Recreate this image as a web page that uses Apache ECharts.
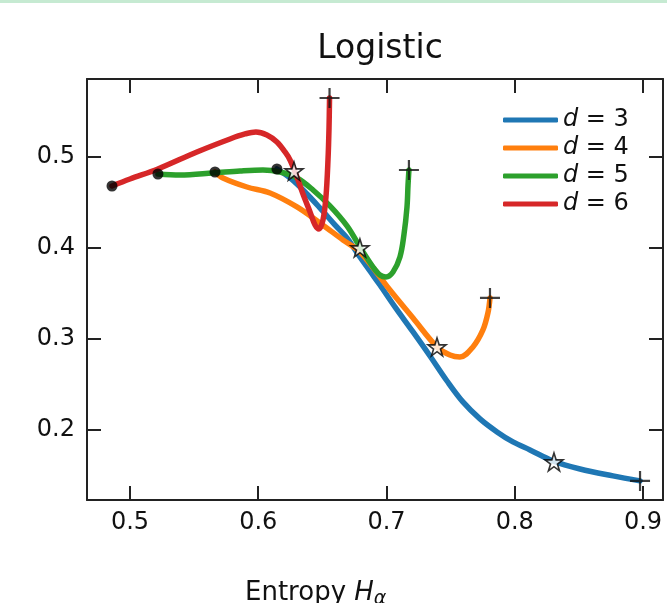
<!DOCTYPE html>
<html>
<head>
<meta charset="utf-8">
<script src="https://cdn.jsdelivr.net/npm/echarts@6/dist/echarts.min.js"></script>
<style>
html,body{margin:0;padding:0;background:#fff;}
#chart{width:667px;height:603px;}
</style>
</head>
<body>
<div id="chart"></div>
<script>
// ---- data ----
const seriesNames = ['d = 3', 'd = 4', 'd = 5', 'd = 6'];
const colors = ['#1f77b4', '#ff7f0e', '#2ca02c', '#d62728'];

const d3X = [0.6146,0.6248,0.6365,0.6481,0.6598,0.6692,0.6793,0.6871,0.6949,0.7066,0.7207,0.7339,0.7472,0.7596,0.7729,0.7862,0.7986,0.8119,0.8298,0.8509,0.8766,0.8977];
const d3Y = [0.4868,0.4769,0.4615,0.4440,0.4253,0.4110,0.3901,0.3747,0.3593,0.3352,0.3077,0.2813,0.2538,0.2308,0.2121,0.1978,0.1868,0.1780,0.1659,0.1571,0.1495,0.1440];

const d4X = [0.5663,0.5725,0.5912,0.6092,0.6302,0.6481,0.6661,0.6793,0.6926,0.7027,0.7207,0.7394,0.7495,0.7573,0.7674,0.7752,0.7791,0.7807];
const d4Y = [0.4835,0.4769,0.4670,0.4604,0.4451,0.4275,0.4088,0.3956,0.3725,0.3538,0.3230,0.2912,0.2824,0.2802,0.2912,0.3099,0.3286,0.3451];

const d5X = [0.5218,0.5390,0.5647,0.5858,0.6037,0.6170,0.6302,0.6427,0.6559,0.6692,0.6793,0.6895,0.6949,0.6996,0.7051,0.7105,0.7136,0.7160,0.7168,0.7175];
const d5Y = [0.4813,0.4802,0.4824,0.4846,0.4857,0.4835,0.4769,0.4637,0.4462,0.4242,0.4011,0.3791,0.3703,0.3681,0.3736,0.3901,0.4143,0.4451,0.4692,0.4857];

const d6X = [0.4860,0.5000,0.5218,0.5522,0.5780,0.5897,0.5982,0.6068,0.6146,0.6209,0.6248,0.6302,0.6349,0.6404,0.6443,0.6474,0.6505,0.6528,0.6544,0.6552,0.6556];
const d6Y = [0.4681,0.4758,0.4868,0.5055,0.5198,0.5253,0.5275,0.5242,0.5165,0.5055,0.4967,0.4780,0.4593,0.4396,0.4253,0.4209,0.4308,0.4560,0.4967,0.5319,0.5648];

const starX = [0.8306, 0.7394, 0.6793, 0.6279];
const starY = [0.1648, 0.2912, 0.4000, 0.4846];

const xTicks = [0.5, 0.6, 0.7, 0.8, 0.9];
const yTicks = [0.2, 0.3, 0.4, 0.5];
const xRange = [0.4665, 0.9156];
const yRange = [0.123, 0.5857];

const titleText = 'Logistic';
const xLabelText = ['Entropy ', 'H', 'α'];

// ---- build ----
const curvesX = [d3X, d4X, d5X, d6X];
const curvesY = [d3Y, d4Y, d5Y, d6Y];
const pairs = (xs, ys) => xs.map((x, i) => [x, ys[i]]);

const FONT = 'DejaVu Sans';
const INK = '#111';
const starPath = 'path://M0,-1L0.2245,-0.309L0.951,-0.309L0.363,0.118L0.588,0.809L0,0.382L-0.588,0.809L-0.363,0.118L-0.951,-0.309L-0.2245,-0.309Z';
const plusPath = 'path://M-0.11,-1H0.11V-0.11H1V0.11H0.11V1H-0.11V0.11H-1V-0.11H-0.11Z';

const lineSeries = seriesNames.map((name, k) => ({
  name: name,
  type: 'line',
  data: pairs(curvesX[k], curvesY[k]),
  symbol: 'none',
  showSymbol: false,
  smooth: 0.35,
  color: colors[k],
  lineStyle: { width: 5.5, color: colors[k], cap: 'round', join: 'round' },
  z: 2 + k
}));

const startPts = curvesX.map((xs, k) => [xs[0], curvesY[k][0]]);
const endPts = curvesX.map((xs, k) => [xs[xs.length - 1], curvesY[k][curvesY[k].length - 1]]);

const axisCommonX = {
  type: 'value', min: xRange[0], max: xRange[1],
  splitLine: { show: false },
  axisLine: { show: true, onZero: false, lineStyle: { color: '#222', width: 2 } },
  axisTick: { show: true, inside: true, length: 14, customValues: xTicks, lineStyle: { color: '#222', width: 2 } }
};
const axisCommonY = {
  type: 'value', min: yRange[0], max: yRange[1],
  splitLine: { show: false },
  axisLine: { show: true, onZero: false, lineStyle: { color: '#222', width: 2 } },
  axisTick: { show: true, inside: true, length: 14, customValues: yTicks, lineStyle: { color: '#222', width: 2 } }
};

const option = {
  animation: false,
  backgroundColor: '#fff',
  textStyle: { fontFamily: FONT },
  title: {
    text: titleText,
    left: 375, top: 28,
    textAlign: 'center',
    textStyle: { fontFamily: FONT, fontSize: 33, fontWeight: 'normal', color: INK }
  },
  grid: { left: 87, right: 4, top: 79, bottom: 103 },
  legend: {
    orient: 'vertical',
    left: 498, top: 103,
    itemWidth: 55, itemHeight: 5, itemGap: 4,
    icon: 'roundRect',
    data: seriesNames,
    formatter: n => '{i|d}{n|' + n.slice(1) + '}',
    textStyle: {
      fontFamily: FONT, fontSize: 24, color: INK, padding: [0, 0, 0, 0],
      rich: {
        i: { fontFamily: FONT, fontStyle: 'italic', fontSize: 24, color: INK, lineHeight: 24 },
        n: { fontFamily: FONT, fontSize: 24, color: INK, lineHeight: 24 }
      }
    }
  },
  xAxis: [
    Object.assign({}, axisCommonX, {
      position: 'bottom',
      axisLabel: { show: true, customValues: xTicks, formatter: v => v.toFixed(1), fontSize: 24, fontFamily: FONT, color: INK, margin: 11 }
    }),
    Object.assign({}, axisCommonX, { position: 'top', axisLabel: { show: false } })
  ],
  yAxis: [
    Object.assign({}, axisCommonY, {
      position: 'left',
      axisLabel: { show: true, customValues: yTicks, formatter: v => v.toFixed(1), fontSize: 24, fontFamily: FONT, color: INK, margin: 12 }
    }),
    Object.assign({}, axisCommonY, { position: 'right', axisLabel: { show: false } })
  ],
  graphic: [
    { type: 'rect', shape: { x: 0, y: 0, width: 667, height: 3 }, style: { fill: '#c6ead2' }, z: 100 },
    {
      type: 'text', left: 245, top: 580,
      style: {
        text: '{n|' + xLabelText[0] + '}{i|' + xLabelText[1] + '}{s|' + xLabelText[2] + '}',
        rich: {
          n: { fontFamily: FONT, fontSize: 26, fill: INK, lineHeight: 32, verticalAlign: 'middle' },
          i: { fontFamily: FONT, fontSize: 26, fontStyle: 'italic', fill: INK, lineHeight: 32, verticalAlign: 'middle' },
          s: { fontFamily: FONT, fontSize: 19, fontStyle: 'italic', fill: INK, lineHeight: 32, verticalAlign: 'bottom', padding: [10, 0, 0, 0] }
        }
      }
    }
  ],
  series: lineSeries.concat([
    {
      name: 'start', type: 'scatter', data: startPts, symbol: 'circle', symbolSize: 11,
      itemStyle: { color: '#000' }, z: 10, silent: true
    },
    {
      name: 'star', type: 'scatter', data: pairs(starX, starY), symbol: starPath, symbolSize: 18,
      itemStyle: { color: '#fff', borderColor: '#000', borderWidth: 1.6 }, z: 11, silent: true
    },
    {
      name: 'end', type: 'scatter', data: endPts, symbol: plusPath, symbolSize: 20,
      itemStyle: { color: '#111' }, z: 11, silent: true
    }
  ])
};

const chart = echarts.init(document.getElementById('chart'), null, { renderer: 'canvas' });
chart.setOption(option);
</script>
</body>
</html>
